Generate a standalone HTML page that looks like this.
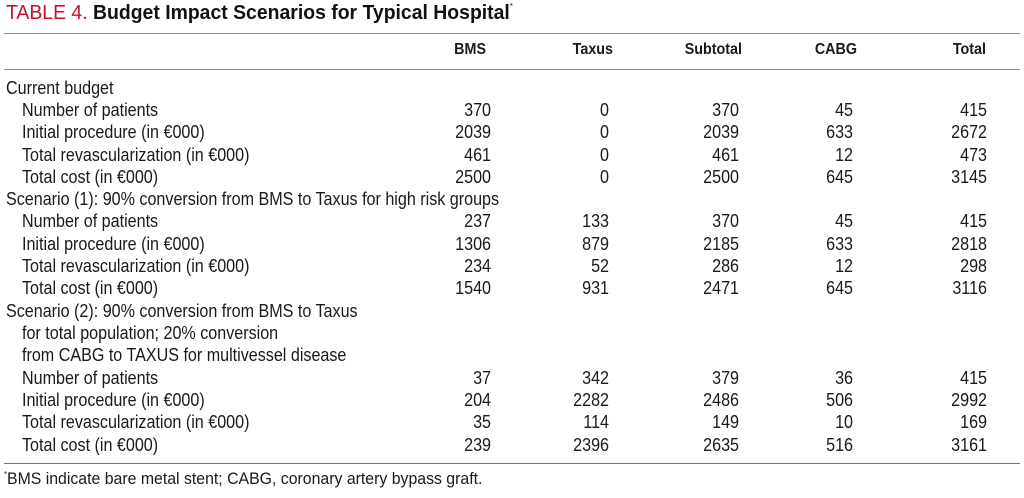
<!DOCTYPE html>
<html><head><meta charset="utf-8"><style>
body{margin:0;width:1024px;height:498px;background:#fff;position:relative;overflow:hidden;font-family:"Liberation Sans Narrow","Liberation Sans",sans-serif;color:#1a1a1a}
.t{position:absolute;left:6px;top:2px;font-family:"Liberation Sans",sans-serif;font-size:20px;white-space:nowrap;transform:scaleX(0.97);transform-origin:left}
.t .r{color:#c8102e}
.t b{color:#111}
.t sup{font-size:8px;vertical-align:top}
.ln{position:absolute;left:4px;width:1016px;height:1px;background:#d9707d}
.row{position:absolute;left:0;height:22px;line-height:22px;font-size:18px;width:1024px}
.row span{position:absolute;white-space:nowrap}
.l,.l2{transform:scaleX(0.895);transform-origin:left}
.l{left:6px}.l2{left:22px}
.c1,.c2,.c3,.c4,.c5{text-align:right;width:120px;transform:scaleX(0.895);transform-origin:right}
.c1{left:371px}.c2{left:489px}.c3{left:619px}.c4{left:733px}.c5{left:867px}
.h{font-weight:bold;font-size:16px}
.fn{position:absolute;left:4px;top:470px;font-size:16.5px;white-space:nowrap;transform:scaleX(0.96);transform-origin:left}
.fn sup{font-size:8px;vertical-align:top}
</style></head><body>
<div class="t"><span class="r">TABLE 4.</span> <b>Budget Impact Scenarios for Typical Hospital</b><sup>*</sup></div>
<div class="ln" style="top:33px"></div>
<div class="row h" style="top:39px"><span class="c1" style="left:366px">BMS</span><span class="c2" style="left:493px">Taxus</span><span class="c3" style="left:622px">Subtotal</span><span class="c4" style="left:737px">CABG</span><span class="c5" style="left:866px">Total</span></div>
<div class="ln" style="top:69px"></div>
<div class="row" style="top:77px"><span class="l">Current budget</span></div>
<div class="row" style="top:99px"><span class="l2">Number of patients</span><span class="c1">370</span><span class="c2">0</span><span class="c3">370</span><span class="c4">45</span><span class="c5">415</span></div>
<div class="row" style="top:121px"><span class="l2">Initial procedure (in €000)</span><span class="c1">2039</span><span class="c2">0</span><span class="c3">2039</span><span class="c4">633</span><span class="c5">2672</span></div>
<div class="row" style="top:144px"><span class="l2">Total revascularization (in €000)</span><span class="c1">461</span><span class="c2">0</span><span class="c3">461</span><span class="c4">12</span><span class="c5">473</span></div>
<div class="row" style="top:166px"><span class="l2">Total cost (in €000)</span><span class="c1">2500</span><span class="c2">0</span><span class="c3">2500</span><span class="c4">645</span><span class="c5">3145</span></div>
<div class="row" style="top:188px"><span class="l">Scenario (1): 90% conversion from BMS to Taxus for high risk groups</span></div>
<div class="row" style="top:210px"><span class="l2">Number of patients</span><span class="c1">237</span><span class="c2">133</span><span class="c3">370</span><span class="c4">45</span><span class="c5">415</span></div>
<div class="row" style="top:233px"><span class="l2">Initial procedure (in €000)</span><span class="c1">1306</span><span class="c2">879</span><span class="c3">2185</span><span class="c4">633</span><span class="c5">2818</span></div>
<div class="row" style="top:255px"><span class="l2">Total revascularization (in €000)</span><span class="c1">234</span><span class="c2">52</span><span class="c3">286</span><span class="c4">12</span><span class="c5">298</span></div>
<div class="row" style="top:277px"><span class="l2">Total cost (in €000)</span><span class="c1">1540</span><span class="c2">931</span><span class="c3">2471</span><span class="c4">645</span><span class="c5">3116</span></div>
<div class="row" style="top:300px"><span class="l">Scenario (2): 90% conversion from BMS to Taxus</span></div>
<div class="row" style="top:322px"><span class="l2">for total population; 20% conversion</span></div>
<div class="row" style="top:344px"><span class="l2">from CABG to TAXUS for multivessel disease</span></div>
<div class="row" style="top:367px"><span class="l2">Number of patients</span><span class="c1">37</span><span class="c2">342</span><span class="c3">379</span><span class="c4">36</span><span class="c5">415</span></div>
<div class="row" style="top:389px"><span class="l2">Initial procedure (in €000)</span><span class="c1">204</span><span class="c2">2282</span><span class="c3">2486</span><span class="c4">506</span><span class="c5">2992</span></div>
<div class="row" style="top:411px"><span class="l2">Total revascularization (in €000)</span><span class="c1">35</span><span class="c2">114</span><span class="c3">149</span><span class="c4">10</span><span class="c5">169</span></div>
<div class="row" style="top:434px"><span class="l2">Total cost (in €000)</span><span class="c1">239</span><span class="c2">2396</span><span class="c3">2635</span><span class="c4">516</span><span class="c5">3161</span></div>
<div class="ln" style="top:463px;background:#d94a5a"></div>
<div class="fn"><sup>*</sup>BMS indicate bare metal stent; CABG, coronary artery bypass graft.</div>
</body></html>
